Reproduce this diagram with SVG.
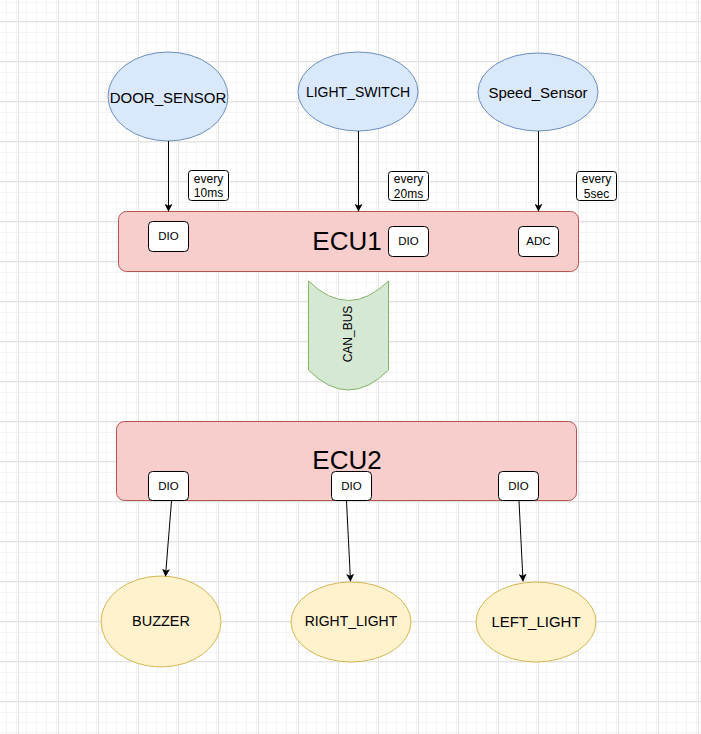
<svg xmlns="http://www.w3.org/2000/svg" width="701" height="734" viewBox="0 0 701 734">
<defs>
<pattern id="minor" width="10" height="10" patternUnits="userSpaceOnUse" x="8" y="1">
<path d="M0 0.5H10M0.5 0V10" fill="none" stroke="#f4f4f4" stroke-width="1"/>
</pattern>
<pattern id="major" width="40" height="40" patternUnits="userSpaceOnUse" x="18" y="21">
<rect width="40" height="40" fill="url(#minor)"/>
<path d="M0 0.5H40M0.5 0V40" fill="none" stroke="#e3e3e3" stroke-width="1"/>
</pattern>
<marker id="arr" viewBox="0 0 10 10" refX="9" refY="5" markerWidth="8" markerHeight="8" markerUnits="userSpaceOnUse" orient="auto">
<path d="M0 0L10 5L0 10L2.5 5Z" fill="#000"/>
</marker>
</defs>
<style>
.t{font-family:"Liberation Sans",Arial,sans-serif;fill:#000;text-anchor:middle;dominant-baseline:central}
.in{fill:#dae8fc;stroke:#6c8ebf;stroke-width:1}
.out{fill:#fff2cc;stroke:#d6b656;stroke-width:1}
.ecu{fill:#f8cecc;stroke:#b85450;stroke-width:1}
.box{fill:#fff;stroke:#000;stroke-width:1}
.c{stroke:#000;stroke-width:1;fill:none;marker-end:url(#arr)}
</style>
<rect width="701" height="734" fill="#fff"/>
<rect width="701" height="734" fill="url(#major)"/>

<g id="door_sensor"><ellipse class="in" cx="168" cy="96.5" rx="60" ry="44.5"/><text class="t" x="168" y="97" font-size="15">DOOR_SENSOR</text></g>
<g id="light_switch"><ellipse class="in" cx="358" cy="91.5" rx="60" ry="39.5"/><text class="t" x="358" y="92" font-size="14">LIGHT_SWITCH</text></g>
<g id="speed_sensor"><ellipse class="in" cx="538" cy="92" rx="60" ry="39"/><text class="t" x="538" y="92" font-size="15">Speed_Sensor</text></g>

<g id="lbl10"><rect class="box" x="188.5" y="170.5" width="40" height="30" rx="3"/><text class="t" x="208.5" y="178.5" font-size="12">every</text><text class="t" x="208.5" y="193" font-size="12">10ms</text></g>
<g id="lbl20"><rect class="box" x="388.5" y="171.5" width="40" height="29" rx="3"/><text class="t" x="408.5" y="179" font-size="12">every</text><text class="t" x="408.5" y="194" font-size="12">20ms</text></g>
<g id="lbl5"><rect class="box" x="576.5" y="171.5" width="40" height="29" rx="3"/><text class="t" x="596.5" y="179" font-size="12">every</text><text class="t" x="596.5" y="194" font-size="12">5sec</text></g>

<g id="ecu1"><rect class="ecu" x="118.5" y="211.5" width="460" height="60" rx="8"/><text class="t" x="347" y="241" font-size="26">ECU1</text></g>
<g id="ecu1_dio1"><rect class="box" x="148.5" y="221.5" width="40" height="30" rx="4"/><text class="t" x="168.5" y="236" font-size="11.5">DIO</text></g>
<g id="ecu1_dio2"><rect class="box" x="388.5" y="226.5" width="40" height="30" rx="4"/><text class="t" x="408.5" y="241" font-size="11.5">DIO</text></g>
<g id="ecu1_adc"><rect class="box" x="518.5" y="226.5" width="40" height="30" rx="4"/><text class="t" x="538.5" y="241" font-size="11.5">ADC</text></g>

<g id="can_bus"><path d="M308.5 281 Q348.5 320 388.5 281 L388.5 370 Q348.5 410 308.5 370 Z" fill="#d5e8d4" stroke="#82b366" stroke-width="1"/><text class="t" x="348" y="334" font-size="12" transform="rotate(-90 348 334)">CAN_BUS</text></g>

<g id="ecu2"><rect class="ecu" x="116.5" y="421.5" width="460" height="79" rx="8"/><text class="t" x="347" y="460" font-size="26">ECU2</text></g>
<g id="ecu2_dio1"><rect class="box" x="148.5" y="471.5" width="40" height="29" rx="4"/><text class="t" x="168.5" y="486" font-size="11.5">DIO</text></g>
<g id="ecu2_dio2"><rect class="box" x="331.5" y="471.5" width="40" height="29" rx="4"/><text class="t" x="351.5" y="486" font-size="11.5">DIO</text></g>
<g id="ecu2_dio3"><rect class="box" x="498.5" y="471.5" width="40" height="29" rx="4"/><text class="t" x="518.5" y="486" font-size="11.5">DIO</text></g>

<g id="buzzer"><ellipse class="out" cx="161" cy="621.5" rx="60" ry="45.5"/><text class="t" x="161" y="621" font-size="14.5">BUZZER</text></g>
<g id="right_light"><ellipse class="out" cx="351" cy="622" rx="60" ry="40"/><text class="t" x="351" y="621" font-size="14">RIGHT_LIGHT</text></g>
<g id="left_light"><ellipse class="out" cx="536" cy="622" rx="60" ry="40"/><text class="t" x="536" y="621" font-size="15">LEFT_LIGHT</text></g>

<g id="connectors">
<line class="c" x1="168.5" y1="141" x2="168.5" y2="211"/>
<line class="c" x1="358.5" y1="131" x2="358.5" y2="211"/>
<line class="c" x1="538.5" y1="131" x2="538.5" y2="211"/>
<line class="c" x1="171.5" y1="501" x2="165.5" y2="576"/>
<line class="c" x1="346.5" y1="501" x2="350.5" y2="581"/>
<line class="c" x1="519" y1="501" x2="523" y2="581"/>
</g>
</svg>
